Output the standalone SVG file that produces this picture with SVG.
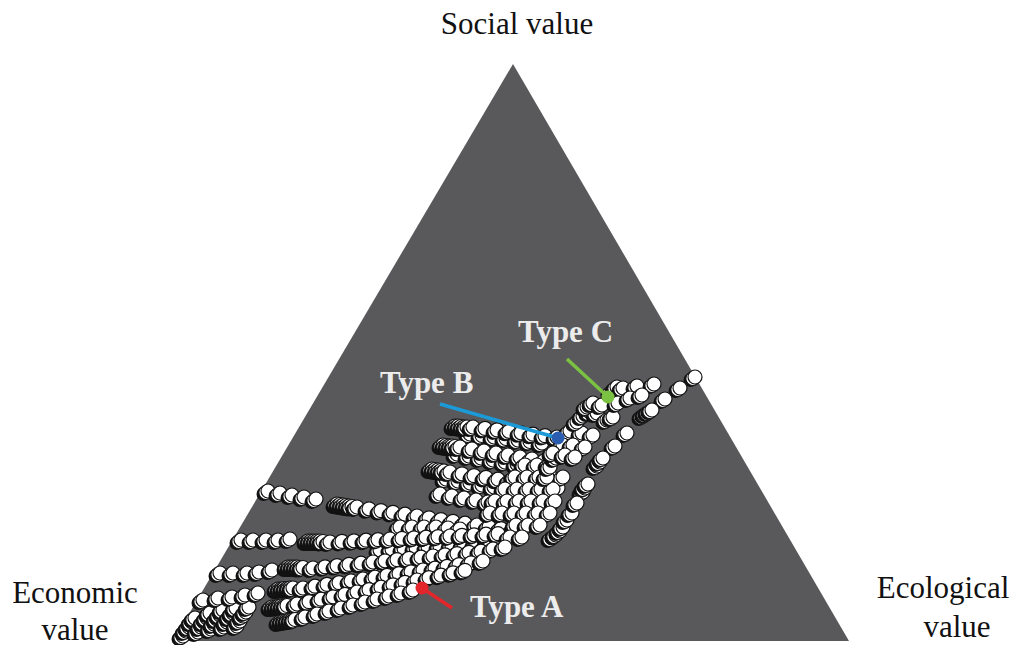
<svg xmlns="http://www.w3.org/2000/svg" xmlns:xlink="http://www.w3.org/1999/xlink" width="1016" height="645" viewBox="0 0 1016 645">
<style>
.lab{font-family:"Liberation Serif","Times New Roman",serif;font-size:31px;fill:#111;text-anchor:middle}
.typ{font-family:"Liberation Serif","Times New Roman",serif;font-weight:bold;font-size:31px;fill:#ececec}
.sh{fill:#111}
.w{fill:#fff;stroke:#111;stroke-width:1.2}
.cl{stroke-width:3.5;fill:none}
</style>
<defs>
<g id="b"><circle cx="-4.5" cy="3" r="7" class="sh"/><circle cx="-2.2" cy="1.5" r="7" class="w"/><circle r="7" class="w"/></g>
</defs>
<rect width="1016" height="645" fill="#fff"/>
<g id="triangle"><polygon points="513,64 173,641 849,641" fill="#59595b"/></g>
<g id="points">
<!-- isolated rows -->
<use href="#b" x="268" y="491"/><use href="#b" x="280" y="493"/><use href="#b" x="292" y="495"/><use href="#b" x="304" y="497"/><use href="#b" x="316" y="499"/>
<use href="#b" x="241" y="540"/><use href="#b" x="253" y="540"/><use href="#b" x="266" y="540"/><use href="#b" x="278" y="540"/><use href="#b" x="290" y="539"/>
<use href="#b" x="220" y="573"/><use href="#b" x="233" y="573"/><use href="#b" x="247" y="573"/><use href="#b" x="259" y="572"/><use href="#b" x="272" y="570"/>
<!-- bottom-left stacks -->
<use href="#b" x="183" y="636"/><use href="#b" x="186" y="631"/><use href="#b" x="189" y="627"/><use href="#b" x="192" y="622"/><use href="#b" x="195" y="618"/>
<use href="#b" x="198" y="632"/><use href="#b" x="201" y="627"/><use href="#b" x="204" y="622"/><use href="#b" x="207" y="618"/><use href="#b" x="210" y="613"/>
<use href="#b" x="211" y="629"/><use href="#b" x="214" y="624"/><use href="#b" x="217" y="619"/><use href="#b" x="220" y="615"/><use href="#b" x="223" y="610"/>
<use href="#b" x="224" y="627"/><use href="#b" x="227" y="622"/><use href="#b" x="230" y="617"/><use href="#b" x="233" y="613"/><use href="#b" x="236" y="608"/>
<use href="#b" x="237" y="626"/><use href="#b" x="240" y="621"/><use href="#b" x="243" y="616"/><use href="#b" x="246" y="612"/><use href="#b" x="249" y="607"/>
<use href="#b" x="203" y="600"/><use href="#b" x="218" y="598"/><use href="#b" x="232" y="597"/><use href="#b" x="245" y="595"/><use href="#b" x="258" y="593"/>
<!-- upper fingers F1-F3 (with under-rows) -->
<use href="#b" x="470" y="434"/><use href="#b" x="482" y="435.5"/><use href="#b" x="494" y="437"/><use href="#b" x="506" y="438.5"/><use href="#b" x="518" y="440"/><use href="#b" x="530" y="441.5"/><use href="#b" x="542" y="443"/>
<use href="#b" x="455" y="426"/><use href="#b" x="458" y="426"/><use href="#b" x="461" y="426.5"/><use href="#b" x="464" y="427"/><use href="#b" x="467" y="427"/>
<use href="#b" x="473" y="427"/><use href="#b" x="485" y="428.4"/><use href="#b" x="497" y="429.9"/><use href="#b" x="509" y="431.3"/><use href="#b" x="521" y="432.8"/><use href="#b" x="533" y="434.2"/><use href="#b" x="545" y="435.6"/><use href="#b" x="557" y="437"/>
<use href="#b" x="457" y="454"/><use href="#b" x="469" y="456"/><use href="#b" x="481" y="458"/><use href="#b" x="493" y="460"/><use href="#b" x="505" y="462"/><use href="#b" x="517" y="464"/><use href="#b" x="529" y="466"/>
<use href="#b" x="443" y="445"/><use href="#b" x="446" y="445.5"/><use href="#b" x="449" y="446"/><use href="#b" x="452" y="446"/><use href="#b" x="455" y="446.5"/>
<use href="#b" x="460" y="447"/><use href="#b" x="472" y="449"/><use href="#b" x="484" y="451"/><use href="#b" x="496" y="453"/><use href="#b" x="508" y="455"/><use href="#b" x="520" y="457"/><use href="#b" x="532" y="459"/><use href="#b" x="544" y="461"/>
<use href="#b" x="446" y="479"/><use href="#b" x="458" y="481"/><use href="#b" x="470" y="483"/><use href="#b" x="482" y="485"/><use href="#b" x="494" y="487"/><use href="#b" x="506" y="489"/>
<use href="#b" x="432" y="469"/><use href="#b" x="435" y="469.5"/><use href="#b" x="438" y="470"/><use href="#b" x="441" y="470.5"/><use href="#b" x="444" y="471"/>
<use href="#b" x="450" y="472"/><use href="#b" x="462" y="473.8"/><use href="#b" x="474" y="475.6"/><use href="#b" x="486" y="477.4"/><use href="#b" x="498" y="479.2"/><use href="#b" x="510" y="481"/><use href="#b" x="522" y="482.8"/><use href="#b" x="534" y="484.6"/><use href="#b" x="546" y="486.4"/><use href="#b" x="558" y="488"/>
<!-- L0 -->
<use href="#b" x="440" y="494"/><use href="#b" x="452" y="496"/><use href="#b" x="464" y="498"/><use href="#b" x="476" y="500"/><use href="#b" x="488" y="502"/>
<!-- L1 -->
<use href="#b" x="337" y="504"/><use href="#b" x="340" y="504.5"/><use href="#b" x="343" y="505"/><use href="#b" x="346" y="505.5"/><use href="#b" x="349" y="506"/><use href="#b" x="352" y="506.5"/>
<use href="#b" x="357" y="507"/><use href="#b" x="369" y="508.8"/><use href="#b" x="381" y="510.6"/><use href="#b" x="393" y="512.4"/><use href="#b" x="405" y="514.2"/><use href="#b" x="417" y="516"/><use href="#b" x="429" y="517.8"/><use href="#b" x="441" y="519.6"/><use href="#b" x="453" y="521.4"/><use href="#b" x="465" y="523.2"/><use href="#b" x="477" y="525"/><use href="#b" x="489" y="526.8"/><use href="#b" x="501" y="528.6"/><use href="#b" x="513" y="530.4"/>
<!-- trunk -->
<use href="#b" x="525" y="465"/><use href="#b" x="537" y="465"/><use href="#b" x="549" y="465"/>
<use href="#b" x="515" y="477"/><use href="#b" x="527" y="477"/><use href="#b" x="539" y="477"/><use href="#b" x="551" y="477"/><use href="#b" x="563" y="477"/>
<use href="#b" x="505" y="489"/><use href="#b" x="517" y="489"/><use href="#b" x="529" y="489"/><use href="#b" x="541" y="489"/><use href="#b" x="553" y="489"/>
<use href="#b" x="495" y="501"/><use href="#b" x="507" y="501"/><use href="#b" x="519" y="501"/><use href="#b" x="531" y="501"/><use href="#b" x="543" y="501"/><use href="#b" x="555" y="501"/>
<use href="#b" x="490" y="513"/><use href="#b" x="502" y="513"/><use href="#b" x="514" y="513"/><use href="#b" x="526" y="513"/><use href="#b" x="538" y="513"/><use href="#b" x="550" y="513"/>
<use href="#b" x="516" y="525"/><use href="#b" x="528" y="525"/><use href="#b" x="540" y="525"/>
<!-- fill rows in lower band -->
<use href="#b" x="400" y="527"/><use href="#b" x="412" y="527"/><use href="#b" x="424" y="527"/><use href="#b" x="436" y="527"/><use href="#b" x="448" y="528"/><use href="#b" x="460" y="529"/>
<use href="#b" x="380" y="550"/><use href="#b" x="392" y="549.3"/><use href="#b" x="404" y="548.6"/><use href="#b" x="416" y="547.8"/><use href="#b" x="428" y="547.1"/><use href="#b" x="440" y="546.4"/><use href="#b" x="452" y="545.7"/><use href="#b" x="464" y="545"/><use href="#b" x="476" y="544.2"/><use href="#b" x="488" y="543.5"/><use href="#b" x="500" y="542.8"/>
<use href="#b" x="380" y="570"/><use href="#b" x="392" y="568.6"/><use href="#b" x="404" y="567.1"/><use href="#b" x="416" y="565.7"/><use href="#b" x="428" y="564.2"/><use href="#b" x="440" y="562.8"/><use href="#b" x="452" y="561.4"/><use href="#b" x="464" y="559.9"/><use href="#b" x="476" y="558.5"/>
<use href="#b" x="360" y="586"/><use href="#b" x="372" y="584"/><use href="#b" x="384" y="581.9"/><use href="#b" x="396" y="579.9"/><use href="#b" x="408" y="577.8"/><use href="#b" x="420" y="575.8"/><use href="#b" x="432" y="573.8"/><use href="#b" x="444" y="571.7"/><use href="#b" x="456" y="569.7"/>
<use href="#b" x="340" y="602"/><use href="#b" x="352" y="599.4"/><use href="#b" x="364" y="596.7"/><use href="#b" x="376" y="594.1"/><use href="#b" x="388" y="591.4"/><use href="#b" x="400" y="588.8"/><use href="#b" x="412" y="586.2"/>
<!-- L2 -->
<use href="#b" x="308" y="541"/><use href="#b" x="311" y="541"/><use href="#b" x="314" y="541"/><use href="#b" x="317" y="541"/><use href="#b" x="320" y="541"/><use href="#b" x="323" y="541.5"/>
<use href="#b" x="330" y="542"/><use href="#b" x="342" y="541.4"/><use href="#b" x="354" y="540.8"/><use href="#b" x="366" y="540.2"/><use href="#b" x="378" y="539.6"/><use href="#b" x="390" y="539"/><use href="#b" x="402" y="538.4"/><use href="#b" x="414" y="537.8"/><use href="#b" x="426" y="537.2"/><use href="#b" x="438" y="536.6"/><use href="#b" x="450" y="536"/><use href="#b" x="462" y="535.4"/><use href="#b" x="474" y="534.8"/><use href="#b" x="486" y="534.2"/><use href="#b" x="498" y="533.6"/><use href="#b" x="510" y="537"/><use href="#b" x="522" y="537"/>
<!-- L3 -->
<use href="#b" x="288" y="567"/><use href="#b" x="291" y="567"/><use href="#b" x="294" y="567"/><use href="#b" x="297" y="567"/><use href="#b" x="300" y="567.5"/><use href="#b" x="303" y="567.5"/>
<use href="#b" x="313" y="568"/><use href="#b" x="325" y="566.8"/><use href="#b" x="337" y="565.6"/><use href="#b" x="349" y="564.4"/><use href="#b" x="361" y="563.2"/><use href="#b" x="373" y="562"/><use href="#b" x="385" y="560.8"/><use href="#b" x="397" y="559.6"/><use href="#b" x="409" y="558.4"/><use href="#b" x="421" y="557.2"/><use href="#b" x="433" y="556"/><use href="#b" x="445" y="554.8"/><use href="#b" x="457" y="553.6"/><use href="#b" x="469" y="552.4"/><use href="#b" x="481" y="551.2"/><use href="#b" x="493" y="549"/><use href="#b" x="505" y="547"/>
<!-- L4 -->
<use href="#b" x="278" y="589"/><use href="#b" x="281" y="589"/><use href="#b" x="284" y="588.5"/><use href="#b" x="287" y="588.5"/><use href="#b" x="290" y="588"/><use href="#b" x="293" y="588"/>
<use href="#b" x="303" y="588"/><use href="#b" x="315" y="586.2"/><use href="#b" x="327" y="584.4"/><use href="#b" x="339" y="582.6"/><use href="#b" x="351" y="580.8"/><use href="#b" x="363" y="579"/><use href="#b" x="375" y="577.2"/><use href="#b" x="387" y="575.4"/><use href="#b" x="399" y="573.6"/><use href="#b" x="411" y="571.8"/><use href="#b" x="423" y="570"/><use href="#b" x="435" y="568.2"/><use href="#b" x="447" y="566.4"/><use href="#b" x="459" y="564.6"/><use href="#b" x="471" y="562.8"/><use href="#b" x="483" y="561"/>
<!-- L5 -->
<use href="#b" x="272" y="607"/><use href="#b" x="275" y="607"/><use href="#b" x="278" y="606.5"/><use href="#b" x="281" y="606"/><use href="#b" x="284" y="606"/><use href="#b" x="287" y="605.5"/>
<use href="#b" x="297" y="604"/><use href="#b" x="309" y="601.6"/><use href="#b" x="321" y="599.2"/><use href="#b" x="333" y="596.8"/><use href="#b" x="345" y="594.4"/><use href="#b" x="357" y="592"/><use href="#b" x="369" y="589.6"/><use href="#b" x="381" y="587.2"/><use href="#b" x="393" y="584.8"/><use href="#b" x="405" y="582.4"/><use href="#b" x="417" y="580"/><use href="#b" x="429" y="577.6"/><use href="#b" x="441" y="575.2"/><use href="#b" x="453" y="572.8"/><use href="#b" x="465" y="570.4"/>
<!-- L6 -->
<use href="#b" x="280" y="622"/><use href="#b" x="283" y="621.5"/><use href="#b" x="286" y="621"/><use href="#b" x="289" y="620.5"/><use href="#b" x="292" y="620"/><use href="#b" x="295" y="619.5"/>
<use href="#b" x="305" y="617"/><use href="#b" x="317" y="614"/><use href="#b" x="329" y="611"/><use href="#b" x="341" y="608"/><use href="#b" x="353" y="605"/><use href="#b" x="365" y="602"/><use href="#b" x="377" y="599"/><use href="#b" x="389" y="596"/><use href="#b" x="401" y="593"/><use href="#b" x="413" y="590"/>
<!-- B cluster -->
<use href="#b" x="547" y="477"/><use href="#b" x="550" y="467"/><use href="#b" x="556" y="458"/>
<use href="#b" x="570" y="431"/><use href="#b" x="582" y="433"/><use href="#b" x="593" y="435"/>
<use href="#b" x="563" y="445"/><use href="#b" x="573" y="445"/><use href="#b" x="585" y="447"/>
<use href="#b" x="553" y="453"/><use href="#b" x="565" y="455"/><use href="#b" x="575" y="457"/>
<!-- arm to C -->
<use href="#b" x="577" y="422"/><use href="#b" x="583" y="416"/><use href="#b" x="590" y="412"/><use href="#b" x="597" y="413"/>
<use href="#b" x="587" y="407"/><use href="#b" x="593" y="403"/><use href="#b" x="602" y="405"/>
<use href="#b" x="607" y="420"/><use href="#b" x="613" y="417"/>
<use href="#b" x="612" y="392"/><use href="#b" x="617" y="387"/><use href="#b" x="623" y="388"/><use href="#b" x="637" y="386"/><use href="#b" x="654" y="384"/>
<use href="#b" x="618" y="403"/><use href="#b" x="630" y="398"/><use href="#b" x="642" y="395"/>
<!-- outer chain -->
<use href="#b" x="695" y="377"/><use href="#b" x="680" y="388"/><use href="#b" x="665" y="399"/>
<use href="#b" x="643" y="416"/><use href="#b" x="646" y="414"/><use href="#b" x="649" y="412"/><use href="#b" x="652" y="410"/>
<use href="#b" x="627" y="433"/><use href="#b" x="615" y="446"/>
<use href="#b" x="597" y="466"/><use href="#b" x="600" y="462"/><use href="#b" x="603" y="458"/>
<use href="#b" x="583" y="492"/><use href="#b" x="585" y="488"/><use href="#b" x="588" y="484"/>
<use href="#b" x="552" y="538"/><use href="#b" x="556" y="535"/><use href="#b" x="560" y="531"/><use href="#b" x="563" y="527"/><use href="#b" x="567" y="520"/><use href="#b" x="572" y="513"/><use href="#b" x="577" y="503"/>
</g>
<g id="callouts">
<line x1="422" y1="588" x2="452" y2="608" class="cl" stroke="#e3262b"/>
<circle cx="422" cy="588" r="6.5" fill="#e3262b"/>
<line x1="440" y1="404" x2="558" y2="438" class="cl" stroke="#1b9ad7"/>
<circle cx="558" cy="438" r="6.5" fill="#2a5db0"/>
<line x1="567" y1="359" x2="608" y2="397" class="cl" stroke="#7cc242"/>
<circle cx="608" cy="397" r="6.5" fill="#7cc242"/>
</g>
<g id="labels">
<text class="lab" x="517" y="34">Social value</text>
<text class="lab" x="75" y="603">Economic</text>
<text class="lab" x="75" y="640">value</text>
<text class="lab" x="943" y="598">Ecological</text>
<text class="lab" x="957" y="637">value</text>
<text class="typ" x="518" y="342">Type C</text>
<text class="typ" x="380" y="393">Type B</text>
<text class="typ" x="470" y="617">Type A</text>
</g>
</svg>
